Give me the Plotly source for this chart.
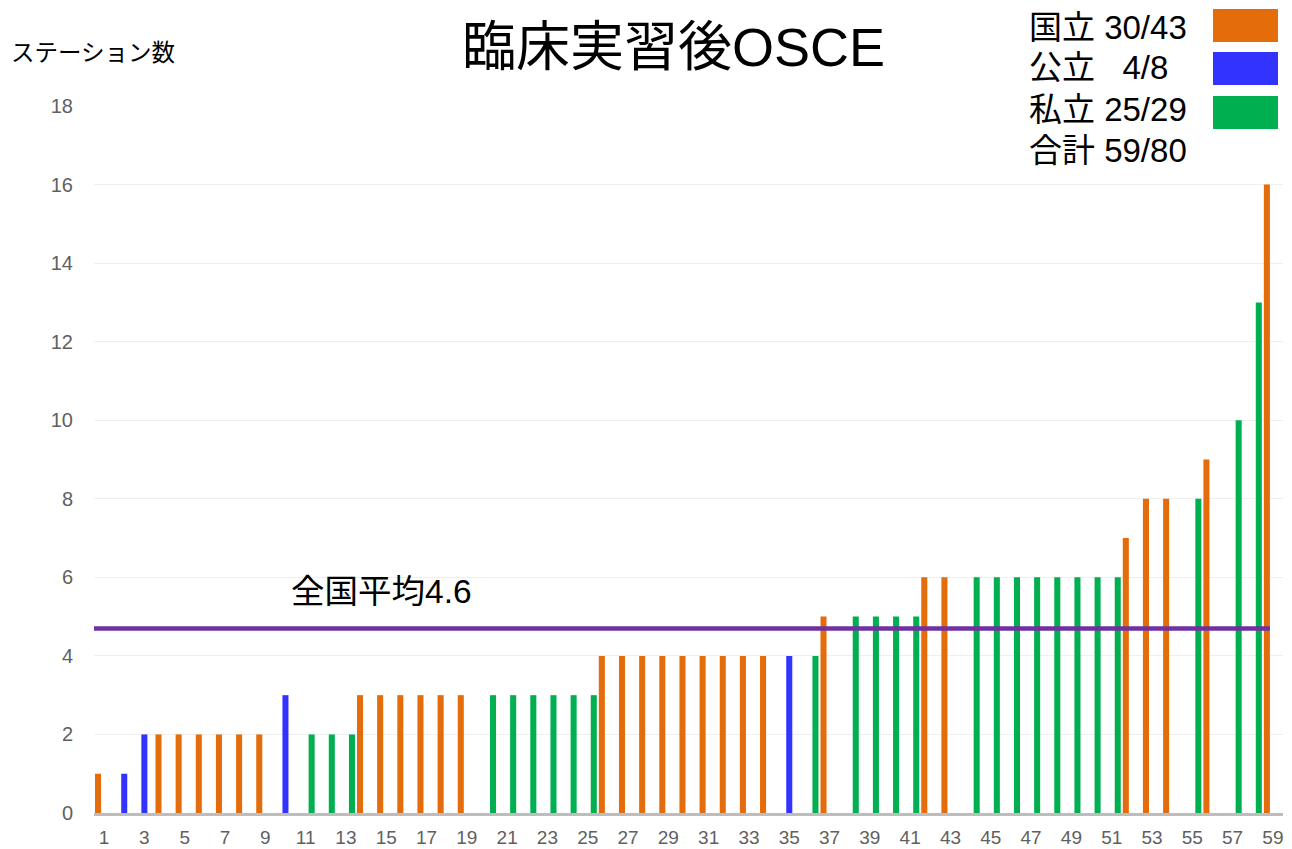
import plotly.graph_objects as go

# ---- data ----
categories = list(range(1, 60))
values = [1, 1, 2, 2, 2, 2, 2, 2, 2, 3,
          2, 2, 2, 3, 3, 3, 3, 3, 3, 3,
          3, 3, 3, 3, 3, 4, 4, 4, 4, 4,
          4, 4, 4, 4, 4, 4, 5, 5, 5, 5,
          5, 6, 6, 6, 6, 6, 6, 6, 6, 6,
          6, 7, 8, 8, 8, 9, 10, 13, 16]
groups = ["国立", "公立", "公立", "国立", "国立", "国立", "国立", "国立", "国立", "公立",
          "私立", "私立", "私立", "国立", "国立", "国立", "国立", "国立", "国立", "私立",
          "私立", "私立", "私立", "私立", "私立", "国立", "国立", "国立", "国立", "国立",
          "国立", "国立", "国立", "国立", "公立", "私立", "国立", "私立", "私立", "私立",
          "私立", "国立", "国立", "私立", "私立", "私立", "私立", "私立", "私立", "私立",
          "私立", "国立", "国立", "国立", "私立", "国立", "私立", "私立", "国立"]
series_names = ["国立", "公立", "私立"]
series_colors = ["#E46C0A", "#3333FF", "#00B050"]
legend_labels = ["国立 30/43", "公立 \u00a0 4/8", "私立 25/29", "合計 59/80"]
national_average = 4.7
average_label = "全国平均4.6"
title_text = "臨床実習後OSCE"
y_title = "ステーション数"
x_ticks = list(range(1, 60, 2))
y_ticks = list(range(0, 19, 2))

FONT = "Liberation Sans, Arial, Noto Sans CJK JP, sans-serif"

W, H = 1292, 849
ml, mr, mt, mb = 94, 9, 106, 36
pw, ph = W - ml - mr, H - mt - mb


def px(x):
    return (x - ml) / pw


def py(y):
    return 1 - (y - mt) / ph


fig = go.Figure()
for name, color in zip(series_names, series_colors):
    ys = [v if g == name else None for v, g in zip(values, groups)]
    fig.add_trace(go.Bar(x=categories, y=ys, name=name, marker_color=color,
                         marker_line_width=0, showlegend=False, hoverinfo="skip"))

fig.add_shape(type="line", xref="x", yref="y", x0=0.45, x1=58.85,
              y0=national_average, y1=national_average,
              line=dict(color="#7030A0", width=4.5), layer="above")

fig.add_annotation(x=10.2, y=5.63, xref="x", yref="y", text=average_label,
                   showarrow=False, xanchor="left", yanchor="middle",
                   font=dict(size=33.5, color="black", family=FONT))

fig.add_annotation(x=px(673), y=py(47), xref="paper", yref="paper", text=title_text,
                   showarrow=False, xanchor="center", yanchor="middle",
                   font=dict(size=54, color="black", family=FONT))

fig.add_annotation(x=px(9), y=py(53), xref="paper", yref="paper", text=y_title,
                   showarrow=False, xanchor="left", yanchor="middle",
                   font=dict(size=23.5, color="black", family=FONT))

leg_y = [27, 68, 110, 150]
for yy, lab in zip(leg_y, legend_labels):
    fig.add_annotation(x=px(1027), y=py(yy), xref="paper", yref="paper", text=lab,
                       showarrow=False, xanchor="left", yanchor="middle",
                       font=dict(size=33, color="black", family=FONT))
box_y = [(9, 42), (52, 85), (96, 129)]
for (y0, y1), c in zip(box_y, series_colors):
    fig.add_shape(type="rect", xref="paper", yref="paper",
                  x0=px(1213), x1=px(1278), y0=py(y1), y1=py(y0),
                  fillcolor=c, line_width=0)

fig.update_layout(
    width=W, height=H,
    margin=dict(l=ml, r=mr, t=mt, b=mb, autoexpand=False),
    paper_bgcolor="white", plot_bgcolor="white",
    barmode="group", bargap=0.1, bargroupgap=0.0,
    font=dict(family=FONT),
    hovermode=False,
    xaxis=dict(range=[0.5, 59.5], tickvals=x_ticks,
               ticktext=[str(v) for v in x_ticks],
               showgrid=False, showline=True, linecolor="#BDBDBD", linewidth=3,
               ticks="outside", ticklen=5, tickcolor="rgba(0,0,0,0)",
               tickfont=dict(size=19, color="#5f5f5f", family=FONT),
               zeroline=False, fixedrange=True, automargin=False),
    yaxis=dict(range=[0, 18], tickvals=y_ticks,
               showgrid=True, gridcolor="#EFEFEF", gridwidth=1,
               ticks="outside", ticklen=16, tickcolor="rgba(0,0,0,0)",
               tickfont=dict(size=20, color="#5f5f5f", family=FONT),
               zeroline=False, fixedrange=True, automargin=False),
)

fig.write_html("out.html", config={"displayModeBar": False},
               post_script="document.body.style.margin='0';document.body.style.overflow='hidden';")
